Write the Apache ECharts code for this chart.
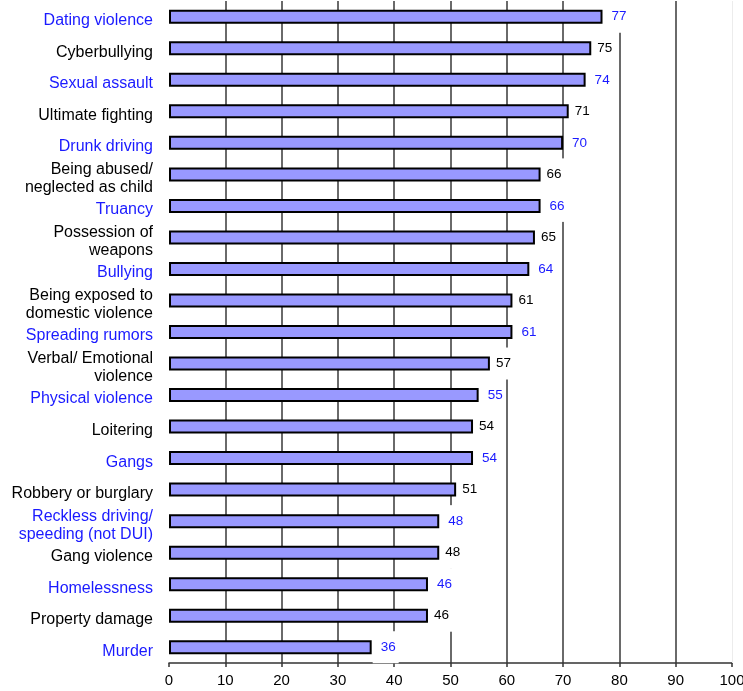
<!DOCTYPE html>
<html>
<head>
<meta charset="utf-8">
<script src="https://cdn.jsdelivr.net/npm/echarts@6/dist/echarts.min.js"></script>
<style>
html,body{margin:0;padding:0;background:#fff;}
#chart{width:743px;height:691px;}
</style>
</head>
<body>
<div id="chart"></div>
<script>
const categories = [
  "Dating violence",
  "Cyberbullying",
  "Sexual assault",
  "Ultimate fighting",
  "Drunk driving",
  "Being abused/\nneglected as child",
  "Truancy",
  "Possession of\nweapons",
  "Bullying",
  "Being exposed to\ndomestic violence",
  "Spreading rumors",
  "Verbal/ Emotional\nviolence",
  "Physical violence",
  "Loitering",
  "Gangs",
  "Robbery or burglary",
  "Reckless driving/\nspeeding (not DUI)",
  "Gang violence",
  "Homelessness",
  "Property damage",
  "Murder"
];
const values = [77, 75, 74, 71, 70, 66, 66, 65, 64, 61, 61, 57, 55, 54, 54, 51, 48, 48, 46, 46, 36];
const xTicks = [0, 10, 20, 30, 40, 50, 60, 70, 80, 90, 100];

const BLUE = '#1a1aff';
const FONT = '"Liberation Sans", Arial, sans-serif';

const chart = echarts.init(document.getElementById('chart'));
const data = values.map((v, i) => ({
  value: v,
  label: {
    color: i % 2 === 0 ? BLUE : '#000',
    padding: i % 2 === 0 ? [9, 3, 9, 8] : [9, 3, 9, 5]
  }
}));

chart.setOption({
  animation: false,
  backgroundColor: '#fff',
  grid: { left: 169, right: 11, top: 1, bottom: 28, containLabel: false, outerBoundsMode: 'none' },
  xAxis: {
    type: 'value',
    min: xTicks[0],
    max: xTicks[xTicks.length - 1],
    interval: 10,
    axisLine: { show: true, lineStyle: { color: '#333', width: 1.5 } },
    axisTick: { show: true, inside: false, length: 4, lineStyle: { color: '#333', width: 1.5 } },
    axisLabel: { color: '#000', fontSize: 15, fontFamily: FONT, margin: 10 },
    splitLine: { show: true, showMinLine: false, showMaxLine: false, lineStyle: { color: '#6a6a6a', width: 2 } }
  },
  yAxis: {
    type: 'category',
    inverse: true,
    data: categories,
    axisLine: { show: false },
    axisTick: { show: false },
    splitLine: { show: false },
    axisLabel: {
      fontSize: 16,
      fontFamily: FONT,
      lineHeight: 18,
      margin: 16,
      align: 'right',
      padding: [8, 0, 0, 0],
      formatter: function (val, idx) {
        const tag = idx % 2 === 0 ? 'b' : 'k';
        return val.split('\n').map(s => '{' + tag + '|' + s + '}').join('\n');
      },
      rich: {
        b: { color: BLUE, fontSize: 16, fontFamily: FONT, lineHeight: 18 },
        k: { color: '#000', fontSize: 16, fontFamily: FONT, lineHeight: 18 }
      }
    }
  },
  series: [{
    type: 'bar',
    data: data,
    barWidth: 14,
    itemStyle: { color: '#9999ff', borderColor: '#000', borderWidth: 2 },
    label: {
      show: true,
      position: 'right',
      distance: 1,
      fontSize: 13.5,
      fontFamily: FONT,
      backgroundColor: '#fff'
    },
    markLine: {
      silent: true,
      symbol: 'none',
      label: { show: false },
      lineStyle: { color: '#ececec', type: 'solid', width: 1 },
      data: [{ xAxis: xTicks[xTicks.length - 1] }]
    }
  }]
});
</script>
</body>
</html>
